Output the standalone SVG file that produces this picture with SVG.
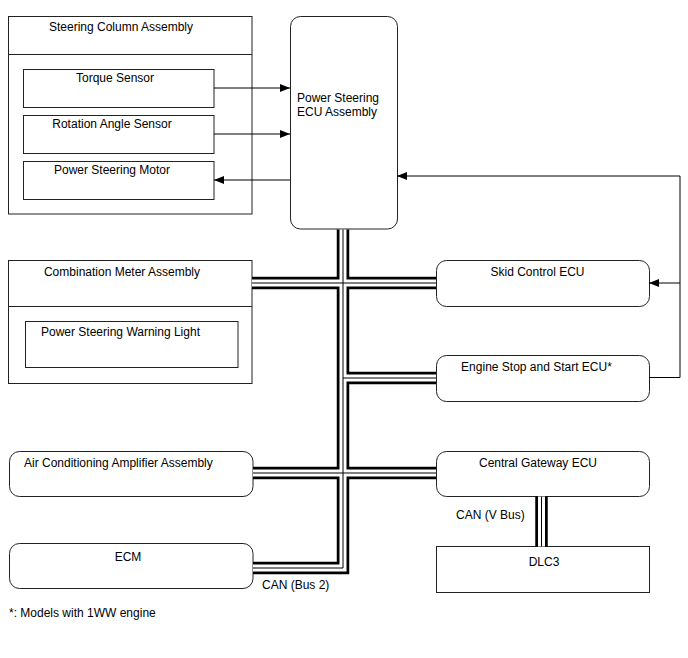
<svg xmlns="http://www.w3.org/2000/svg" xmlns:xlink="http://www.w3.org/1999/xlink" width="688" height="658" viewBox="0 0 688 658">
<style>
  text { font-family: "Liberation Sans", Arial, sans-serif; font-size: 12px; fill: #000; }
  .m { text-anchor: middle; }
  .box { fill: #fff; stroke: #222; stroke-width: 1; }
  .wire { fill: none; stroke: #000; stroke-width: 1; }
  .bus1 { fill: none; stroke: #000; stroke-width: 12.5; stroke-linejoin: miter; stroke-linecap: butt; }
  .bus2 { fill: none; stroke: #fff; stroke-width: 7; stroke-linejoin: miter; stroke-linecap: butt; }
  .bus3 { fill: none; stroke: #000; stroke-width: 1; stroke-linejoin: miter; stroke-linecap: butt; }
</style>
<defs>
  <marker id="ah" viewBox="0 0 10 8" refX="10" refY="4" markerWidth="10" markerHeight="8" markerUnits="userSpaceOnUse" orient="auto">
    <path d="M0,0 L10,4 L0,8 Z" fill="#000"/>
  </marker>
  <g id="bus">
    <path d="M343,229.5 V568 H253"/>
    <path d="M252,283 H436"/>
    <path d="M343,378 H436"/>
    <path d="M253,473 H436"/>
    <path d="M541.5,496.5 V546.5"/>
  </g>
</defs>

<g id="steering-column">
  <rect class="box" x="8.5" y="16.5" width="243.5" height="197.5"/>
  <line x1="8.5" y1="54.5" x2="252" y2="54.5" stroke="#222" stroke-width="1"/>
  <text class="m" x="121" y="31">Steering Column Assembly</text>
</g>
<g id="torque-sensor">
  <rect class="box" x="23.5" y="69.5" width="190.5" height="38"/>
  <text class="m" x="115" y="82">Torque Sensor</text>
</g>
<g id="rotation-angle-sensor">
  <rect class="box" x="23.5" y="115.5" width="190.5" height="38"/>
  <text class="m" x="112" y="128">Rotation Angle Sensor</text>
</g>
<g id="power-steering-motor">
  <rect class="box" x="23.5" y="161.5" width="190.5" height="38"/>
  <text class="m" x="112" y="174">Power Steering Motor</text>
</g>

<g id="ps-ecu">
  <rect class="box" x="290.5" y="16.5" width="107" height="212.5" rx="10" ry="10"/>
  <text x="297" y="102">Power Steering</text>
  <text x="297" y="116">ECU Assembly</text>
</g>

<g id="combination-meter">
  <rect class="box" x="8.5" y="260.5" width="243.5" height="123"/>
  <line x1="8.5" y1="306.5" x2="252" y2="306.5" stroke="#222" stroke-width="1"/>
  <text class="m" x="122" y="276">Combination Meter Assembly</text>
</g>
<g id="warning-light">
  <rect class="box" x="25.5" y="321.5" width="212.5" height="46"/>
  <text x="41" y="336">Power Steering Warning Light</text>
</g>

<g id="skid-control">
  <rect class="box" x="436.5" y="260.5" width="213" height="46" rx="10" ry="10"/>
  <text class="m" x="537.5" y="276">Skid Control ECU</text>
</g>
<g id="engine-stop-start">
  <rect class="box" x="436.5" y="355.5" width="213" height="46" rx="10" ry="10"/>
  <text class="m" x="536.5" y="371">Engine Stop and Start ECU*</text>
</g>

<g id="ac-amplifier">
  <rect class="box" x="9.5" y="451.5" width="243.5" height="45" rx="10" ry="10"/>
  <text x="24" y="467">Air Conditioning Amplifier Assembly</text>
</g>
<g id="central-gateway">
  <rect class="box" x="436.5" y="451.5" width="213" height="45" rx="10" ry="10"/>
  <text class="m" x="538" y="467">Central Gateway ECU</text>
</g>

<g id="ecm">
  <rect class="box" x="9.5" y="543.5" width="243.5" height="45" rx="10" ry="10"/>
  <text class="m" x="128" y="561">ECM</text>
</g>
<g id="dlc3">
  <rect class="box" x="436.5" y="546.5" width="213" height="46"/>
  <text class="m" x="544" y="566">DLC3</text>
</g>

<g id="footnote">
  <text x="9" y="617">*: Models with 1WW engine</text>
</g>

<g id="connectors">
  <use xlink:href="#bus" class="bus1"/>
  <use xlink:href="#bus" class="bus2"/>
  <use xlink:href="#bus" class="bus3"/>
  <path class="wire" d="M214,88 H290" marker-end="url(#ah)"/>
  <path class="wire" d="M214,134 H290" marker-end="url(#ah)"/>
  <path class="wire" d="M290,180 H214" marker-end="url(#ah)"/>
  <path class="wire" d="M649,377.5 H680 V176 H397" marker-end="url(#ah)"/>
  <path class="wire" d="M680,283 H649" marker-end="url(#ah)"/>
  <text x="456" y="519">CAN (V Bus)</text>
  <text x="262" y="589">CAN (Bus 2)</text>
</g>
</svg>
